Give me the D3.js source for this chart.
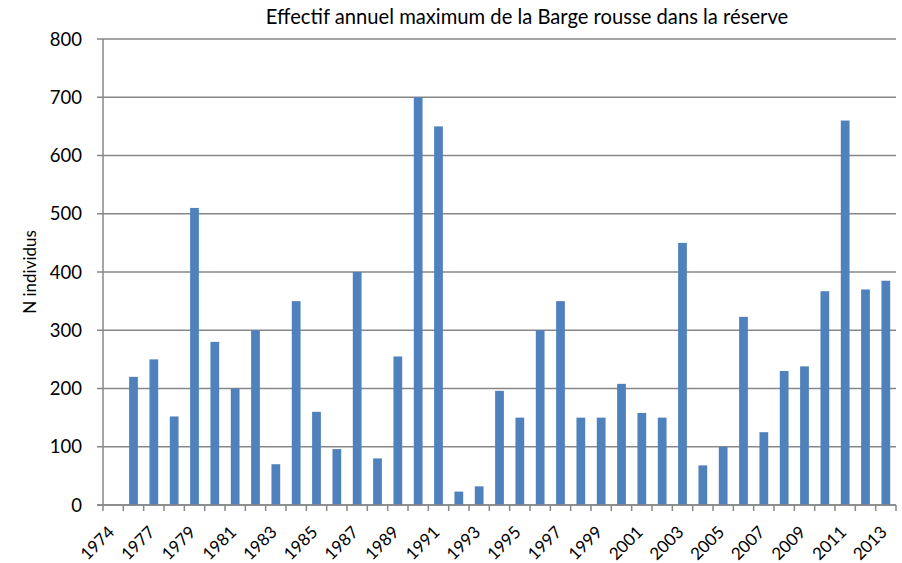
<!DOCTYPE html>
<html><head><meta charset="utf-8">
<script src="https://cdn.jsdelivr.net/npm/d3@7"></script>
<style>body{margin:0;background:#fff}svg{display:block}text{font-family:Lato,"Open Sans",sans-serif;fill:#000}</style>
</head><body><svg id="c" width="902" height="563"></svg>
<script>
const years = ["1974","1976","1977","1978","1979","1980","1981","1982","1983","1984","1985","1986","1987","1988","1989","1990","1991","1992","1993","1994","1995","1996","1997","1998","1999","2000","2001","2002","2003","2004","2005","2006","2007","2008","2009","2010","2011","2012","2013"];
const values = [null,220,250,152,510,280,200,300,70,350,160,96,400,80,255,700,650,23,32,196,150,300,350,150,150,208,158,150,450,68,100,323,125,230,238,367,660,370,385];
const yTicks = [0,100,200,300,400,500,600,700,800];
const title = "Effectif annuel maximum de la Barge rousse dans la réserve";
const yTitle = "N individus";

const svg = d3.select("#c");
const L = 103, R = 896, T = 39, B = 505;
const x = d3.scaleBand().domain(years).range([L, R]).paddingInner(0).paddingOuter(0);
const y = d3.scaleLinear().domain([0, 800]).range([B, T]);
const grid = "#878787";

svg.append("g").selectAll("line").data(yTicks).join("line")
  .attr("x1", L - 6).attr("x2", R).attr("y1", d => y(d)).attr("y2", d => y(d))
  .attr("stroke", grid).attr("stroke-width", 1.5);

svg.append("line").attr("x1", L).attr("x2", L).attr("y1", T).attr("y2", B)
  .attr("stroke", grid).attr("stroke-width", 1.5);

svg.append("g").selectAll("text").data(yTicks).join("text")
  .attr("x", L - 21).attr("y", d => y(d)).attr("dy", "0.36em")
  .attr("text-anchor", "end").attr("font-size", 18.5).text(d => d);

const bw = x.bandwidth() * 0.43;
svg.append("g").selectAll("rect").data(years.map((yr, i) => ({yr, v: values[i]})).filter(d => d.v != null)).join("rect")
  .attr("x", d => x(d.yr) + (x.bandwidth() - bw) / 2)
  .attr("width", bw)
  .attr("y", d => y(d.v))
  .attr("height", d => B - y(d.v))
  .attr("fill", "#4F81BD");

const bounds = years.map(d => x(d)).concat([R]);
svg.append("g").selectAll("line").data(bounds).join("line")
  .attr("x1", d => d).attr("x2", d => d).attr("y1", B).attr("y2", B + 6)
  .attr("stroke", grid).attr("stroke-width", 1.5);

svg.append("line").attr("x1", L - 6).attr("x2", R).attr("y1", B).attr("y2", B)
  .attr("stroke", grid).attr("stroke-width", 1.5);

svg.append("g").selectAll("text").data(years.filter((d, i) => i % 2 === 0)).join("text")
  .attr("transform", d => `translate(${x(d) + x.bandwidth() / 2 - 2},${B + 24}) rotate(-45)`)
  .attr("text-anchor", "end").attr("dy", "0.35em").attr("font-size", 17).text(d => d);

svg.append("text").attr("x", 527).attr("y", 24).attr("text-anchor", "middle").attr("font-size", 20.2).text(title);

svg.append("text").attr("transform", `translate(36,${(T + B) / 2}) rotate(-90)`)
  .attr("text-anchor", "middle").attr("font-size", 17).text(yTitle);
</script></body></html>
